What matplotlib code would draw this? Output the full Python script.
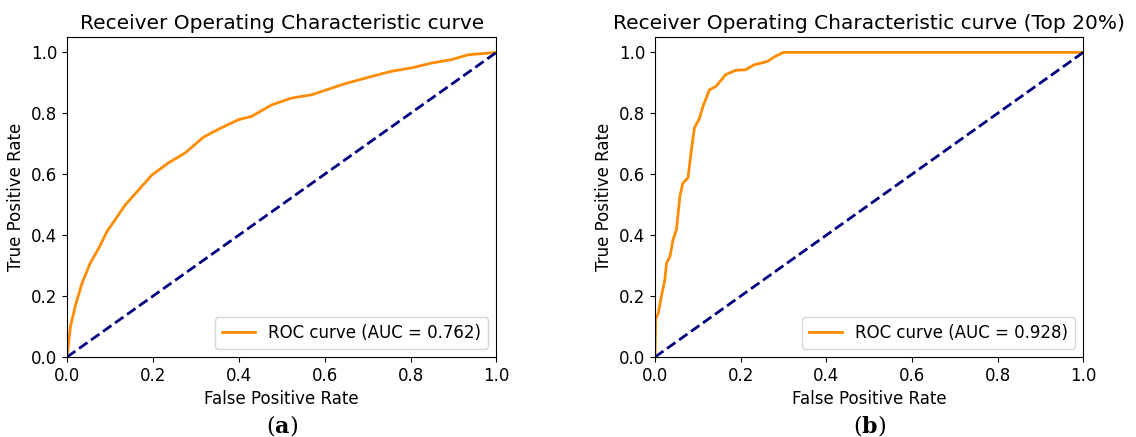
import matplotlib.pyplot as plt

plt.rcParams['mathtext.fontset'] = 'dejavuserif'

# ROC curve points
fpr_all = [0.0, 0.008, 0.019, 0.035, 0.054, 0.075, 0.093, 0.136, 0.167, 0.198, 0.236,
           0.275, 0.318, 0.353, 0.399, 0.43, 0.477, 0.523, 0.57, 0.6, 0.647, 0.709,
           0.756, 0.802, 0.849, 0.895, 0.934, 1.0]
tpr_all = [0.0, 0.10, 0.166, 0.243, 0.308, 0.36, 0.412, 0.5, 0.549, 0.598, 0.637,
           0.670, 0.722, 0.748, 0.779, 0.790, 0.828, 0.850, 0.861, 0.875, 0.897, 0.921,
           0.938, 0.949, 0.965, 0.976, 0.992, 1.0]
auc_all = 0.762

fpr_top = [0.0, 0.0015, 0.0077, 0.015, 0.023, 0.027, 0.035, 0.042, 0.05, 0.058, 0.065,
           0.077, 0.085, 0.092, 0.104, 0.112, 0.127, 0.142, 0.165, 0.188, 0.212, 0.231,
           0.262, 0.281, 0.3, 1.0]
tpr_top = [0.0, 0.123, 0.145, 0.2, 0.254, 0.309, 0.33, 0.385, 0.418, 0.527, 0.571,
           0.588, 0.681, 0.752, 0.784, 0.823, 0.877, 0.888, 0.927, 0.941, 0.943, 0.959,
           0.970, 0.987, 1.0, 1.0]
auc_top = 0.928

titles = ['Receiver Operating Characteristic curve',
          'Receiver Operating Characteristic curve (Top 20%)']
captions = ['a', 'b']

fig = plt.figure(figsize=(11.36, 4.37), dpi=100)
ax1 = fig.add_axes([0.059, 0.183, 0.378, 0.732])
ax2 = fig.add_axes([0.5766, 0.183, 0.377, 0.732])

for ax, fpr, tpr, auc, title, cap in zip([ax1, ax2], [fpr_all, fpr_top], [tpr_all, tpr_top],
                                         [auc_all, auc_top], titles, captions):
    ax.plot(fpr, tpr, color='darkorange', lw=2, label=f'ROC curve (AUC = {auc:.3f})')
    ax.plot([0, 1], [0, 1], color='navy', lw=2, linestyle='--')
    ax.set_xlim(0.0, 1.0)
    ax.set_ylim(0.0, 1.05)
    ax.set_xlabel('False Positive Rate', fontsize=12)
    ax.set_ylabel('True Positive Rate', fontsize=12)
    ax.set_title(title, fontsize=14.5)
    ax.tick_params(labelsize=12)
    ax.legend(loc='lower right', fontsize=12)
    # caption below each panel
    pos = ax.get_position()
    fig.text((pos.x0 + pos.x1) / 2, 0.027, r'$\mathrm{(}\mathbf{' + cap + r'}\mathrm{)}$',
             ha='center', va='center', fontsize=16)

fig.savefig('out.png', dpi=100)
